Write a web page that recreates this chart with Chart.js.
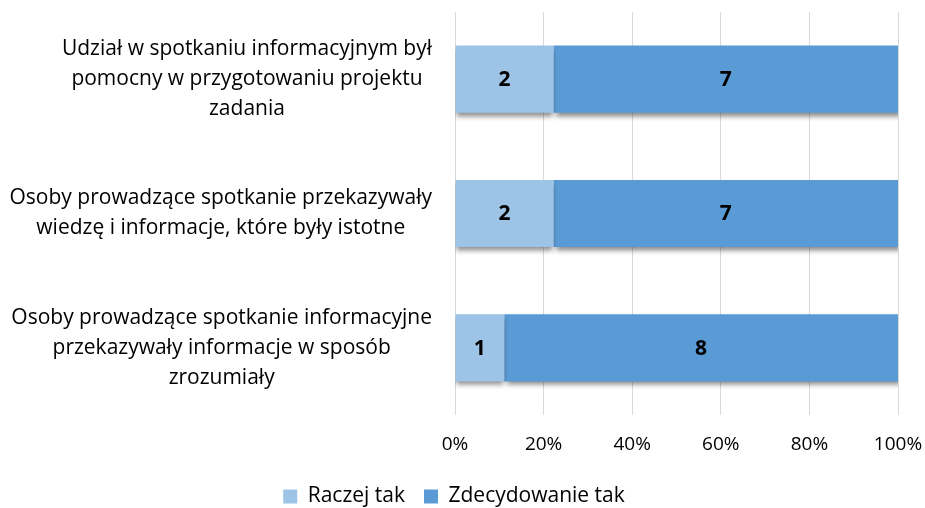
<!DOCTYPE html>
<html>
<head>
<meta charset="utf-8">
<style>
  html, body { margin: 0; padding: 0; background: #fff; }
  #wrap { width: 925px; height: 508px; }
</style>
</head>
<body>
<div id="wrap"><canvas id="myChart"></canvas></div>

<script type="text/javascript" src="https://cdn.jsdelivr.net/npm/chart.js/dist/chart.umd.min.js"></script>
<script>
  // Question labels (one line per array item)
  const categories = [
    ['Udział w spotkaniu informacyjnym był', 'pomocny w przygotowaniu projektu', 'zadania'],
    ['Osoby prowadzące spotkanie przekazywały', 'wiedzę i informacje, które były istotne'],
    ['Osoby prowadzące spotkanie informacyjne', 'przekazywały informacje w sposób', 'zrozumiały']
  ];
  const seriesNames = ['Raczej tak', 'Zdecydowanie tak'];
  const raczejTak = [2, 2, 1];
  const zdecydowanieTak = [7, 7, 8];
  const tickValues = [0, 20, 40, 60, 80, 100];

  const FONT = '"Open Sans", Lato, sans-serif';

  // shares of each answer within a question (100% stacked)
  const totals = raczejTak.map((v, i) => v + zdecydowanieTak[i]);
  const toPercent = arr => arr.map((v, i) => v / totals[i] * 100);

  const chartData = {
    labels: categories,
    datasets: [{
      label: seriesNames[0],
      data: toPercent(raczejTak),
      counts: raczejTak,
      backgroundColor: '#9dc3e6',
      borderWidth: 0
    },
    {
      label: seriesNames[1],
      data: toPercent(zdecydowanieTak),
      counts: zdecydowanieTak,
      backgroundColor: '#5b9bd5',
      borderWidth: 0
    }]
  };

  // soft drop shadow under the bars
  const barShadow = {
    id: 'barShadow',
    beforeDatasetDraw(chart, args) {
      const { ctx } = chart;
      ctx.save();
      ctx.shadowColor = 'rgba(0, 0, 0, 0.45)';
      ctx.shadowBlur = 5;
      ctx.shadowOffsetX = args.index === 1 ? 3 : 0;
      ctx.shadowOffsetY = 4;
    },
    afterDatasetDraw(chart) {
      chart.ctx.restore();
    }
  };

  // counts written in the middle of each segment
  const barValues = {
    id: 'barValues',
    afterDatasetsDraw(chart) {
      const { ctx } = chart;
      ctx.save();
      ctx.font = 'bold 21px ' + FONT;
      ctx.fillStyle = '#000';
      ctx.textAlign = 'center';
      ctx.textBaseline = 'middle';
      chart.data.datasets.forEach((ds, di) => {
        chart.getDatasetMeta(di).data.forEach((bar, i) => {
          const cx = (bar.x + bar.base) / 2;
          ctx.fillText(String(ds.counts[i]), cx, bar.y + 1);
        });
      });
      ctx.restore();
    }
  };

  // category labels: each block right-aligned, lines centered inside the block
  const categoryLabels = {
    id: 'categoryLabels',
    afterDraw(chart) {
      const { ctx } = chart;
      const yScale = chart.scales.y;
      const lineHeight = 30;
      ctx.save();
      ctx.font = '21px ' + FONT;
      ctx.fillStyle = '#000';
      ctx.textAlign = 'center';
      ctx.textBaseline = 'middle';
      const right = chart.chartArea.left - 23;
      chart.data.labels.forEach((lines, i) => {
        const widest = Math.max(...lines.map(l => ctx.measureText(l).width));
        const cx = right - widest / 2;
        const cy = yScale.getPixelForValue(i);
        const top = cy - (lines.length - 1) * lineHeight / 2;
        lines.forEach((l, k) => ctx.fillText(l, cx, top + k * lineHeight));
      });
      ctx.restore();
    }
  };

  const config = {
    type: 'bar',
    data: chartData,
    options: {
      indexAxis: 'y',
      responsive: true,
      maintainAspectRatio: false,
      animation: false,
      layout: {
        // legend items need wide gaps but little room below them
        padding: { top: 12, right: 27, left: 10, bottom: -9 }
      },
      datasets: {
        bar: { barPercentage: 0.5, categoryPercentage: 1 }
      },
      scales: {
        x: {
          stacked: true,
          min: 0,
          max: 100,
          afterBuildTicks(scale) {
            scale.ticks = tickValues.map(v => ({ value: v }));
          },
          afterFit(scale) {
            scale.height = 52;
            scale.paddingRight = 0;
            scale.paddingLeft = 0;
          },
          border: { display: false },
          grid: { color: '#d9d9d9', lineWidth: 1, drawTicks: false },
          ticks: {
            padding: 18,
            color: '#000',
            font: { family: FONT, size: 19 },
            callback: v => v + '%'
          }
        },
        y: {
          stacked: true,
          afterFit(scale) {
            scale.width = 445;
          },
          border: { display: false },
          grid: { display: false },
          ticks: { display: false }
        }
      },
      plugins: {
        legend: {
          position: 'bottom',
          labels: {
            boxWidth: 14,
            boxHeight: 14,
            padding: 19,
            color: '#000',
            font: { family: FONT, size: 21 }
          }
        },
        tooltip: { enabled: false }
      }
    },
    plugins: [barShadow, barValues, categoryLabels]
  };

  const myChart = new Chart(document.getElementById('myChart'), config);
</script>
</body>
</html>
